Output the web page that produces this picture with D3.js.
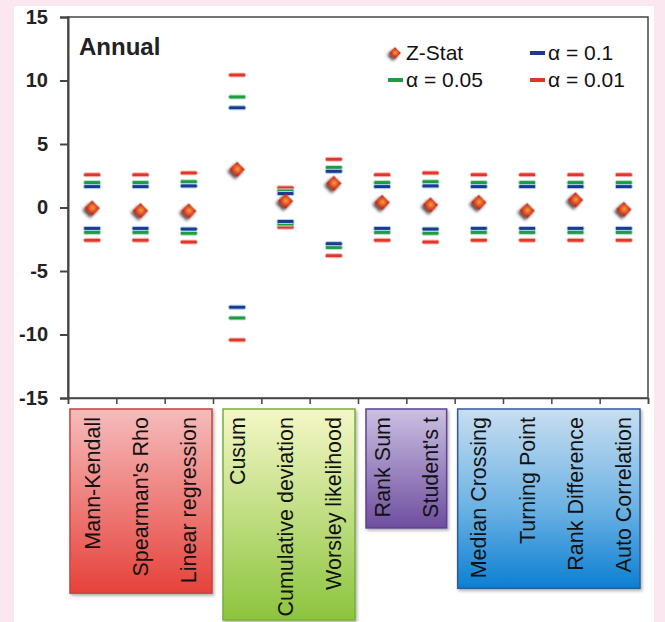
<!DOCTYPE html>
<html>
<head>
<meta charset="utf-8">
<script src="https://cdn.jsdelivr.net/npm/d3@7"></script>
<style>
  body { margin: 0; background: #fbe7ef; }
  svg { display: block; font-family: "Liberation Sans", Arial, sans-serif; }
</style>
</head>
<body>
<svg id="chart" width="665" height="622"></svg>
<script>
// categories and values
const categories = ["Mann-Kendall", "Spearman's Rho", "Linear regression", "Cusum",
  "Cumulative deviation", "Worsley likelihood", "Rank Sum", "Student's t",
  "Median Crossing", "Turning Point", "Rank Difference", "Auto Correlation"];
const zStat   = [-0.05, -0.25, -0.28, 3.0, 0.5, 1.9, 0.4, 0.2, 0.4, -0.25, 0.6, -0.15];
const alpha10 = [1.645, 1.645, 1.70, 7.85, 1.1, 2.85, 1.645, 1.70, 1.645, 1.645, 1.645, 1.645];
const alpha05 = [1.96, 1.96, 2.03, 8.7, 1.3, 3.15, 1.96, 2.03, 1.96, 1.96, 1.96, 1.96];
const alpha01 = [2.576, 2.576, 2.72, 10.43, 1.55, 3.8, 2.576, 2.72, 2.576, 2.576, 2.576, 2.576];
const yTicks = [-15, -10, -5, 0, 5, 10, 15];

// groups of tests (first / last category index)
const groupFirst = [0, 3, 6, 8];
const groupLast  = [2, 5, 7, 11];

const svg = d3.select("#chart");
const W = 665, H = 622;
const margin = { left: 68, right: 17, top: 17, bottom: 224 };

svg.append("rect").attr("width", W).attr("height", H).attr("fill", "#fbe7ef");
svg.append("rect").attr("x", 14).attr("y", 6).attr("width", 640).attr("height", H - 6).attr("fill", "#fff");

const defs = svg.append("defs");

const dia = defs.append("radialGradient").attr("id", "dia").attr("cx", "50%").attr("cy", "45%").attr("r", "60%");
dia.append("stop").attr("offset", "0%").attr("stop-color", "#f7a13a");
dia.append("stop").attr("offset", "55%").attr("stop-color", "#e2552a");
dia.append("stop").attr("offset", "100%").attr("stop-color", "#b8261c");

const shadow = defs.append("filter").attr("id", "shadow").attr("x", "-50%").attr("y", "-50%").attr("width", "200%").attr("height", "220%");
shadow.append("feDropShadow").attr("dx", 0).attr("dy", 3).attr("stdDeviation", 1.8)
  .attr("flood-color", "#000").attr("flood-opacity", 0.7);

const boxShadow = defs.append("filter").attr("id", "boxShadow").attr("x", "-10%").attr("y", "-10%").attr("width", "130%").attr("height", "130%");
boxShadow.append("feDropShadow").attr("dx", 1.5).attr("dy", 2).attr("stdDeviation", 1.5)
  .attr("flood-color", "#000").attr("flood-opacity", 0.3);

const boxColors = [
  { top: "#f5bcbc", bottom: "#e6423a", stroke: "#c0463c" },
  { top: "#f4f7c6", bottom: "#8cc43e", stroke: "#7aae3a" },
  { top: "#cbc0e2", bottom: "#6e4e9f", stroke: "#5b4391" },
  { top: "#c8def0", mid: "#6cb2e4", bottom: "#0c7fd2", stroke: "#2c5c9c" }
];
boxColors.forEach((c, i) => {
  const g = defs.append("linearGradient").attr("id", "box" + i).attr("x1", 0).attr("y1", 0).attr("x2", 0).attr("y2", 1);
  g.append("stop").attr("offset", "0%").attr("stop-color", c.top);
  if (c.mid) g.append("stop").attr("offset", "55%").attr("stop-color", c.mid);
  g.append("stop").attr("offset", "100%").attr("stop-color", c.bottom);
});

///////////////////////////// Scales

const x = d3.scaleBand().domain(categories).range([margin.left, W - margin.right]).padding(0);
const y = d3.scaleLinear().domain([-15, 15]).range([H - margin.bottom, margin.top]);
const xEdge = d3.scaleLinear().domain([0, categories.length]).range([margin.left, W - margin.right]);

///////////////////////////// Frame + axes

svg.append("rect")
  .attr("x", margin.left).attr("y", margin.top)
  .attr("width", W - margin.right - margin.left).attr("height", y(-15) - margin.top)
  .attr("fill", "none").attr("stroke", "#444").attr("stroke-width", 1.5);

const yAxis = svg.append("g")
  .attr("transform", "translate(" + margin.left + ",0)")
  .call(d3.axisLeft(y).tickValues(yTicks).tickSize(8).tickPadding(12).tickFormat(d => String(d)));
yAxis.selectAll("text").attr("font-size", 20).attr("font-weight", "bold").attr("fill", "#222")
  .attr("font-family", "Liberation Sans, Arial, sans-serif");
yAxis.selectAll("line, path").attr("stroke", "#444").attr("stroke-width", 2);

const xAxis = svg.append("g")
  .attr("transform", "translate(0," + y(-15) + ")")
  .call(d3.axisBottom(xEdge).ticks(categories.length).tickSize(6).tickFormat(""));
xAxis.selectAll("line, path").attr("stroke", "#444").attr("stroke-width", 1.5);

///////////////////////////// Threshold dashes

const dashW = 17, dashH = 4;
const levels = [
  { vals: alpha01, color: "#e2362b", glow: "#f7c6c2" },
  { vals: alpha05, color: "#1f9a45", glow: "#bfe6c9" },
  { vals: alpha10, color: "#1e3a8c", glow: "#a9d4f2" }
];
levels.forEach(lv => {
  [1, -1].forEach(sign => {
    svg.append("g").selectAll("rect")
      .data(categories)
      .join("rect")
      .attr("x", d => x(d) + x.bandwidth() / 2 - dashW / 2)
      .attr("y", (d, i) => y(sign * lv.vals[i]) - dashH / 2)
      .attr("width", dashW).attr("height", dashH).attr("rx", 1.5)
      .attr("fill", lv.color)
      .attr("stroke", lv.glow).attr("stroke-width", 1);
  });
});

///////////////////////////// Z-Stat diamonds

const diamond = d3.symbol().type(d3.symbolSquare).size(120);
svg.append("g").selectAll("path")
  .data(categories)
  .join("path")
  .attr("d", diamond)
  .attr("transform", (d, i) => "translate(" + (x(d) + x.bandwidth() / 2) + "," + y(zStat[i]) + ") rotate(45)")
  .attr("fill", "url(#dia)")
  .attr("filter", "url(#shadow)");

///////////////////////////// Title + legend

svg.append("text").attr("x", 79).attr("y", 55).text("Annual")
  .attr("font-size", 24).attr("font-weight", "bold").attr("fill", "#222");

const legend = svg.append("g").attr("font-size", 21).attr("fill", "#111");
legend.append("path").attr("d", d3.symbol().type(d3.symbolSquare).size(70))
  .attr("transform", "translate(395,53) rotate(45)")
  .attr("fill", "url(#dia)").attr("filter", "url(#shadow)");
legend.append("text").attr("x", 406).attr("y", 53).attr("dy", "0.35em").text("Z-Stat");

const legendItems = [
  { label: "α = 0.1", color: levels[2].color, lx: 530, ly: 53 },
  { label: "α = 0.05", color: levels[1].color, lx: 388, ly: 80 },
  { label: "α = 0.01", color: levels[0].color, lx: 530, ly: 80 }
];
legendItems.forEach(it => {
  legend.append("rect").attr("x", it.lx).attr("y", it.ly - 2).attr("width", 15).attr("height", 4)
    .attr("fill", it.color);
  legend.append("text").attr("x", it.lx + 18).attr("y", it.ly).attr("dy", "0.35em").text(it.label);
});

///////////////////////////// Category boxes with rotated labels

const boxTop = y(-15) + 11;
const labelTop = boxTop + 8;
const boxLayer = svg.append("g");
const labelLayer = svg.append("g");

const labels = labelLayer.selectAll("text")
  .data(categories)
  .join("text")
  .attr("transform", d => "translate(" + (x(d) + x.bandwidth() / 2) + "," + labelTop + ") rotate(-90)")
  .attr("text-anchor", "end")
  .attr("dy", "0.35em")
  .attr("font-size", 21.5)
  .attr("fill", "#111")
  .text(d => d);

const pad = [2, 10, 8, 3];
const padR = [1, 3, 8, 8];
groupFirst.forEach((f, gi) => {
  const l = groupLast[gi];
  let longest = 0;
  labels.each(function (d, i) {
    if (i >= f && i <= l) longest = Math.max(longest, this.getComputedTextLength());
  });
  const bottom = Math.min(labelTop + longest + 10, H - 2);
  boxLayer.append("rect")
    .attr("x", x(categories[f]) + pad[gi])
    .attr("y", boxTop)
    .attr("width", x(categories[l]) + x.bandwidth() - padR[gi] - x(categories[f]) - pad[gi])
    .attr("height", bottom - boxTop)
    .attr("fill", "url(#box" + gi + ")")
    .attr("stroke", boxColors[gi].stroke).attr("stroke-width", 1.5)
    .attr("filter", "url(#boxShadow)");
});
</script>
</body>
</html>
